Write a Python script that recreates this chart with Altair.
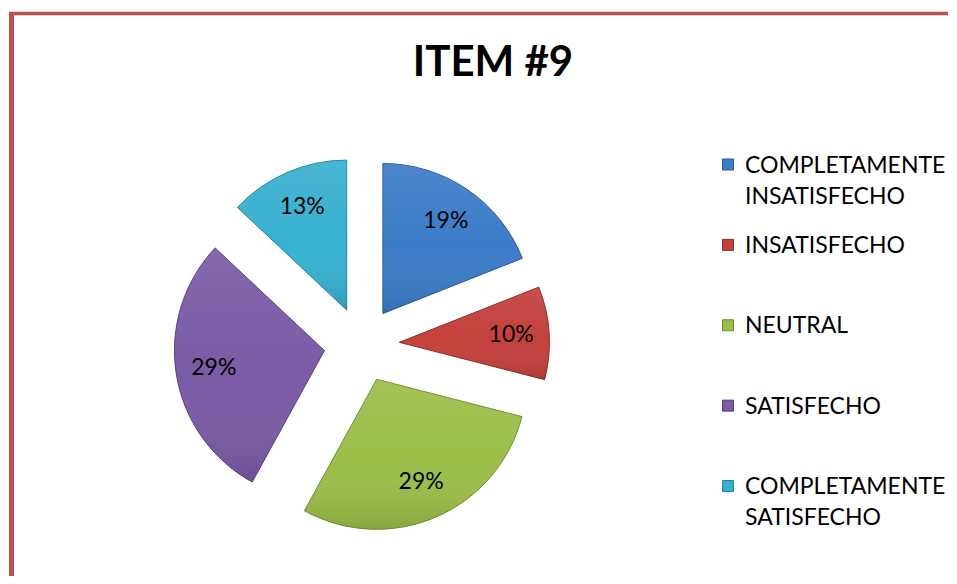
import altair as alt
import pandas as pd

# ---- data ----
cats = ["COMPLETAMENTE INSATISFECHO", "INSATISFECHO", "NEUTRAL", "SATISFECHO", "COMPLETAMENTE SATISFECHO"]
legend_labels = ["COMPLETAMENTE\nINSATISFECHO", "INSATISFECHO", "NEUTRAL", "SATISFECHO", "COMPLETAMENTE\nSATISFECHO"]
values = [19, 10, 29, 29, 13]
title_text = "ITEM #9"

# ---- style ----
fill_colors = ["#3C7CC8", "#C4403C", "#9BBE48", "#7B5BA6", "#38B0D0"]
stroke_colors = ["#2A5A98", "#8E2A28", "#6E8E2E", "#5A3E80", "#2486A0"]
CX, CY = 353.7, 336.7   # pie centre (plot px)
EXPLODE = 37.7          # explosion distance (px)
R = 150
LABEL_R = 112
FONT = "Lato"

df = pd.DataFrame({"cat": cats, "label": legend_labels, "value": values, "order": list(range(len(cats)))})

color_scale = alt.Scale(domain=cats, range=fill_colors)
stroke_scale = alt.Scale(domain=cats, range=stroke_colors)
theta_scale = alt.Scale(domain=[0, 100])

base = (
    alt.Chart(df)
    .transform_window(cum="sum(value)", sort=[alt.SortField("order")])
    .transform_joinaggregate(total="sum(value)")
    .transform_calculate(
        start="datum.cum - datum.value",
        mid="datum.cum - datum.value / 2",
        ang="2 * PI * (datum.cum - datum.value / 2) / datum.total",
        pct="datum.value + '%'",
    )
    .transform_calculate(
        cx=f"{CX} + {EXPLODE} * sin(datum.ang)",
        cy=f"{CY} - {EXPLODE} * cos(datum.ang)",
    )
)

pos = dict(
    x=alt.X("cx:Q", scale=None, axis=None),
    y=alt.Y("cy:Q", scale=None, axis=None),
)

arcs = base.mark_arc(outerRadius=R, strokeWidth=1).encode(
    theta=alt.Theta("start:Q", scale=theta_scale, stack=None),
    theta2="cum:Q",
    color=alt.Color("cat:N", scale=color_scale, legend=None),
    stroke=alt.Stroke("cat:N", scale=stroke_scale, legend=None),
    **pos,
)

shade = base.mark_arc(
    outerRadius=R,
    fill={
        "gradient": "linear",
        "x1": 0, "y1": 0, "x2": 0, "y2": 1,
        "stops": [
            {"offset": 0, "color": "rgba(255,255,255,0.08)"},
            {"offset": 0.55, "color": "rgba(255,255,255,0.0)"},
            {"offset": 1, "color": "rgba(0,0,0,0.12)"},
        ],
    },
).encode(
    theta=alt.Theta("start:Q", scale=theta_scale, stack=None),
    theta2="cum:Q",
    **pos,
)

labels = base.mark_text(radius=LABEL_R, font=FONT, fontSize=23, color="black").encode(
    theta=alt.Theta("mid:Q", scale=theta_scale, stack=None),
    text=alt.Text("pct:N"),
    **pos,
)

leg_y = alt.Y("cat:N", scale=alt.Scale(domain=cats, range=[156.5, 478], padding=0), axis=None)

leg_sym = alt.Chart(df).mark_square(size=121, opacity=1, strokeWidth=1).encode(
    x=alt.value(720),
    y=leg_y,
    color=alt.Color("cat:N", scale=color_scale, legend=None),
    stroke=alt.Stroke("cat:N", scale=stroke_scale, legend=None),
)

leg_txt = alt.Chart(df).mark_text(
    align="left", baseline="alphabetic", dy=8, font=FONT, fontSize=23,
    lineBreak="\n", lineHeight=31, color="black",
).encode(
    x=alt.value(737),
    y=leg_y,
    text="label:N",
)

title = alt.Chart(alt.Data(values=[{"t": title_text}])).mark_text(
    font=FONT, fontSize=42, fontWeight="bold", align="center", baseline="alphabetic", color="black"
).encode(x=alt.value(485), y=alt.value(68), text="t:N")

frame_data = alt.Data(values=[{"k": 1}])
left_line = alt.Chart(frame_data).mark_rule(color="#C0504D", strokeWidth=5).encode(
    x=alt.value(3.5), y=alt.value(4), y2=alt.value(568)
)
top_line = alt.Chart(frame_data).mark_rule(color="#C0504D", strokeWidth=3.5).encode(
    x=alt.value(1), x2=alt.value(940), y=alt.value(5.5)
)

chart = (
    alt.layer(left_line, top_line, title, arcs, shade, labels, leg_sym, leg_txt)
    .resolve_scale(y="independent", x="independent")
    .properties(width=940, height=568, autosize="none", padding=0, background="white")
    .configure_view(stroke=None)
)

chart.save("out.html", embed_options={"renderer": "svg", "actions": False})
